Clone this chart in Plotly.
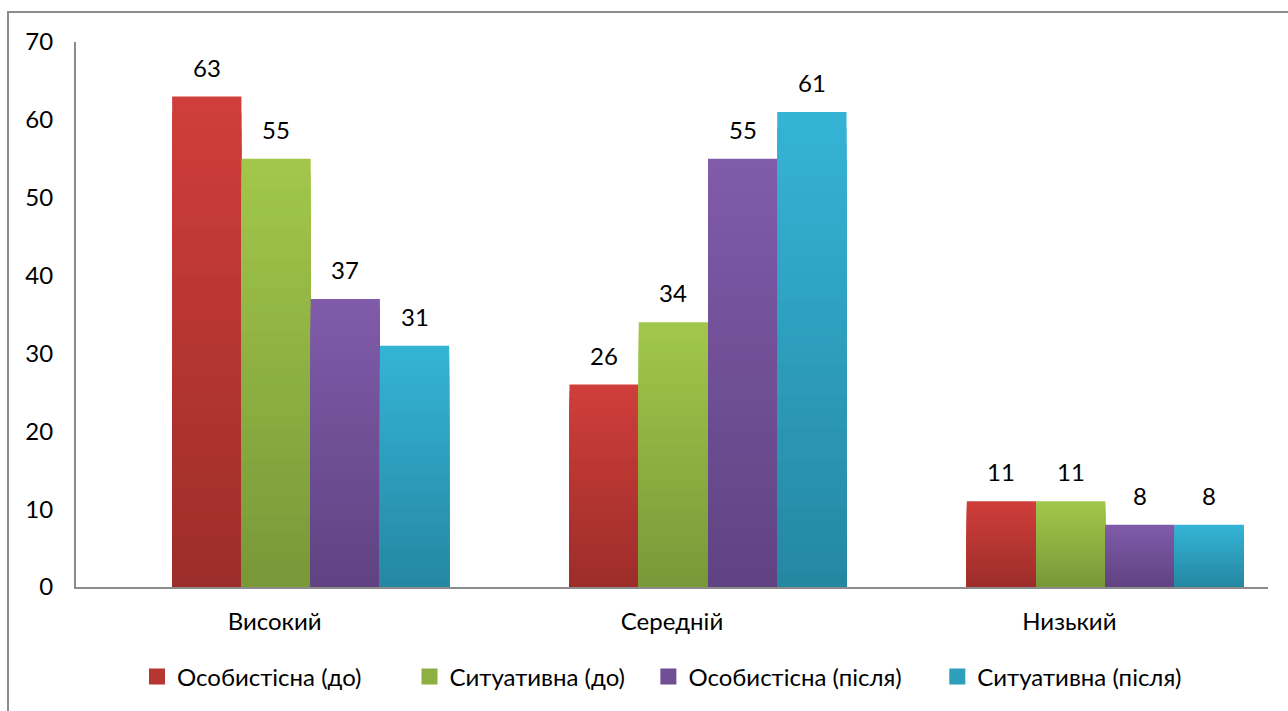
import plotly.graph_objects as go

# Anxiety levels by group, percentages
categories = ["Високий", "Середній", "Низький"]
series_names = [
    "Особистісна (до)",
    "Ситуативна (до)",
    "Особистісна (після)",
    "Ситуативна (після)",
]
personal_before = [63, 26, 11]
situational_before = [55, 34, 11]
personal_after = [37, 55, 8]
situational_after = [31, 61, 8]
y_ticks = [0, 10, 20, 30, 40, 50, 60, 70]

series_values = [personal_before, situational_before, personal_after, situational_after]

# top / bottom colours for the vertical gradient of each series
gradients = [
    ((208, 62, 58), (156, 45, 42)),
    ((162, 199, 75), (120, 152, 56)),
    ((128, 91, 170), (96, 67, 130)),
    ((53, 180, 214), (37, 135, 162)),
]

# extra space after each legend entry
legend_pad = [7, 3, 5, 0]

FONT = "Lato, Calibri, Carlito, sans-serif"
FS = 24
N_SEG = 30
PLOT_W = 1288 - 76 - 20
CAT_PX = PLOT_W / len(categories)
bar_w = 0.1743
start = -2 * bar_w + 0.0906  # the cluster sits a little right of each category centre

fig = go.Figure()


def mix(c_top, c_bot, t):
    # t = 0 at bottom, 1 at top
    return "rgb({},{},{})".format(*[round(b + (a - b) * t) for a, b in zip(c_top, c_bot)])


annotations = []
for k, (name, vals, (c_top, c_bot)) in enumerate(zip(series_names, series_values, gradients)):
    offset = start + k * bar_w
    # nested bars, tallest first, so the darker lower parts paint over it: a vertical gradient
    for s in range(N_SEG):
        frac = 1 - s / N_SEG
        fig.add_trace(
            go.Bar(
                x=categories,
                y=[v * frac for v in vals],
                width=bar_w,
                offset=offset,
                name=name,
                legendgroup=name,
                showlegend=False,
                marker=dict(color=mix(c_top, c_bot, frac - 0.5 / N_SEG), line=dict(width=0)),
                hoverinfo="skip",
            )
        )
    # legend entry
    fig.add_trace(
        go.Scatter(
            x=[None],
            y=[None],
            mode="markers",
            name=name + "\u00a0" * legend_pad[k],
            legendgroup=name,
            marker=dict(symbol="square", size=18, color=mix(c_top, c_bot, 0.5)),
        )
    )
    # value labels above each bar
    centre = offset + bar_w / 2
    for cat, v in zip(categories, vals):
        annotations.append(
            dict(
                x=cat,
                y=v,
                xref="x",
                yref="y",
                text=str(v),
                showarrow=False,
                xanchor="center",
                yanchor="bottom",
                xshift=centre * CAT_PX,
                yshift=13,
                font=dict(family=FONT, size=FS, color="#000000"),
            )
        )

fig.update_layout(
    width=1288,
    height=711,
    barmode="overlay",
    paper_bgcolor="white",
    plot_bgcolor="white",
    margin=dict(l=76, r=20, t=42, b=124),
    font=dict(family=FONT, size=FS, color="#000000"),
    annotations=annotations,
    legend=dict(
        orientation="h",
        x=(137 - 76) / PLOT_W,
        xanchor="left",
        y=-0.165,
        yanchor="middle",
        font=dict(family=FONT, size=FS, color="#000000"),
        itemwidth=30,
        traceorder="normal",
    ),
    shapes=[
        dict(
            type="rect",
            xref="paper",
            yref="paper",
            x0=(8 - 76) / PLOT_W,
            x1=1.2,
            y0=-0.5,
            y1=(587 - 12) / 545,
            line=dict(color="#8c8c8c", width=2),
            fillcolor="rgba(0,0,0,0)",
            layer="below",
        )
    ],
)

fig.update_xaxes(
    type="category",
    range=[-0.5, 2.5],
    showline=True,
    linecolor="#8c8c8c",
    linewidth=2,
    showgrid=False,
    ticks="",
    ticklabelstandoff=12,
    tickfont=dict(family=FONT, size=FS, color="#000000"),
)
fig.update_yaxes(
    range=[0, 70],
    tickvals=y_ticks,
    showline=True,
    linecolor="#8c8c8c",
    linewidth=2,
    showgrid=False,
    zeroline=False,
    ticks="",
    ticklabelstandoff=16,
    tickfont=dict(family=FONT, size=FS, color="#000000"),
)

fig.write_html("out.html")
